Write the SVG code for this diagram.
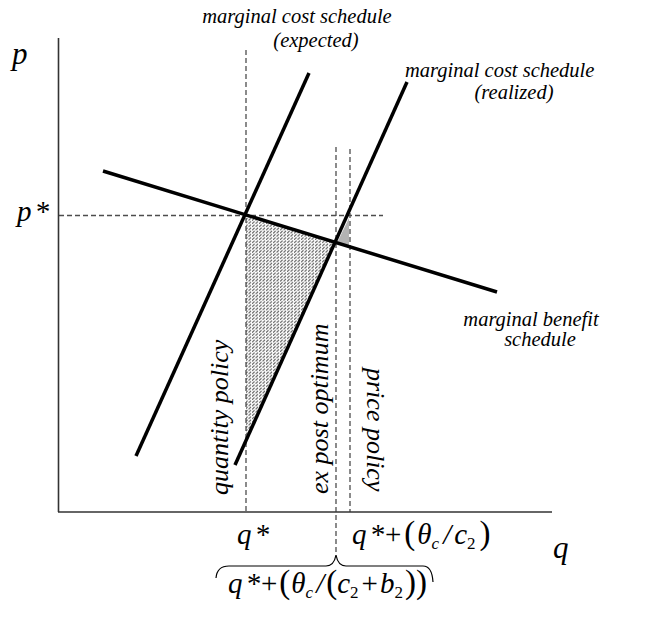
<svg xmlns="http://www.w3.org/2000/svg" width="651" height="617" viewBox="0 0 651 617">
<style>
.lbl{font-family:"Liberation Serif","Times New Roman",serif;font-style:italic;fill:#000}
.math{font-family:"Liberation Serif","Times New Roman",serif;font-style:italic;fill:#000;font-size:29px}
.up{font-style:normal}
.par{font-style:normal;font-size:33px}
.sub{font-size:17px}
.axis{stroke:#333;stroke-width:1.6;fill:none}
.curve{stroke:#000;stroke-width:3.5;fill:none;stroke-linecap:butt}
.dash{stroke:#4d4d4d;stroke-width:1.3;stroke-dasharray:5 3;fill:none}
</style>
<defs>
<pattern id="hatch" width="3.5" height="3.2" patternUnits="userSpaceOnUse">
<path d="M0.2,2.9 L2.6,0.5" stroke="#3a3a3a" stroke-width="0.9"/>
</pattern>
</defs>
<rect width="651" height="617" fill="#fff"/>
<g id="regions">
<polygon points="246,215 336,242 246,440" fill="url(#hatch)"/>
<polygon points="349,218 337,243 349,246" fill="#b3b3b3"/>
</g>
<g id="connectors">
<line class="dash" x1="59" y1="215.5" x2="383" y2="215.5"/>
<line class="dash" x1="246" y1="50" x2="246" y2="512"/>
<line class="dash" x1="336" y1="147" x2="336" y2="554"/>
<line class="dash" x1="350" y1="149" x2="350" y2="512"/>
</g>
<g id="axes">
<line class="axis" x1="58.5" y1="38" x2="58.5" y2="512"/>
<line class="axis" x1="58" y1="512" x2="552" y2="512"/>
<text class="lbl" x="12" y="64" font-size="31">p</text>
<text class="lbl" x="553" y="558" font-size="31">q</text>
</g>
<g id="mc-expected">
<line class="curve" x1="136" y1="456" x2="309" y2="73"/>
<text class="lbl" x="297" y="23" font-size="20.5" text-anchor="middle">marginal cost schedule</text>
<text class="lbl" x="316" y="46.5" font-size="20.5" text-anchor="middle">(expected)</text>
</g>
<g id="mc-realized">
<line class="curve" x1="235" y1="465" x2="407" y2="82"/>
<text class="lbl" x="405" y="77" font-size="20.5">marginal cost schedule</text>
<text class="lbl" x="514" y="99" font-size="20.5" text-anchor="middle">(realized)</text>
</g>
<g id="mb">
<line class="curve" x1="103" y1="171" x2="497" y2="292"/>
<text class="lbl" x="531" y="326" font-size="20.5" text-anchor="middle">marginal benefit</text>
<text class="lbl" x="540" y="346" font-size="20.5" text-anchor="middle">schedule</text>
</g>
<g id="pstar">
<text class="math" x="17" y="221" font-size="28">p<tspan dx="3">*</tspan></text>
</g>
<g id="quantity-policy">
<text class="lbl" font-size="26" transform="translate(228,495) rotate(-90)">quantity policy</text>
</g>
<g id="ex-post">
<text class="lbl" font-size="26" transform="translate(328,494) rotate(-90)">ex post optimum</text>
</g>
<g id="price-policy">
<text class="lbl" font-size="26" transform="translate(367,368) rotate(90)">price policy</text>
</g>
<g id="qstar">
<text class="math" x="237" y="544">q<tspan dx="3">*</tspan></text>
</g>
<g id="qprice">
<text class="math" x="352" y="544">q<tspan dx="3">*</tspan><tspan class="up" dx="1">+</tspan><tspan class="par" dx="3">(</tspan><tspan dx="2">θ</tspan><tspan class="sub" dy="5">c</tspan><tspan dy="-5" dx="4">/</tspan><tspan dx="3">c</tspan><tspan class="sub up" dy="5">2</tspan><tspan class="par" dy="-5" dx="4">)</tspan></text>
</g>
<g id="brace">
<path d="M216,578 Q217,566 229,566 L326,566 Q334,566 336,555 Q338,566 346,566 L423,566 Q432,566 433,582" stroke="#000" stroke-width="1.2" fill="none"/>
<text class="math" x="228" y="593">q<tspan dx="3">*</tspan><tspan class="up" dx="1">+</tspan><tspan class="par" dx="2">(</tspan><tspan dx="1">θ</tspan><tspan class="sub" dy="5">c</tspan><tspan dy="-5" dx="3">/</tspan><tspan class="par" dx="2">(</tspan>c<tspan class="sub up" dy="5">2</tspan><tspan class="up" dy="-5" dx="3">+</tspan><tspan dx="2">b</tspan><tspan class="sub up" dy="5">2</tspan><tspan class="par" dy="-5" dx="2">))</tspan></text>
</g>
</svg>
